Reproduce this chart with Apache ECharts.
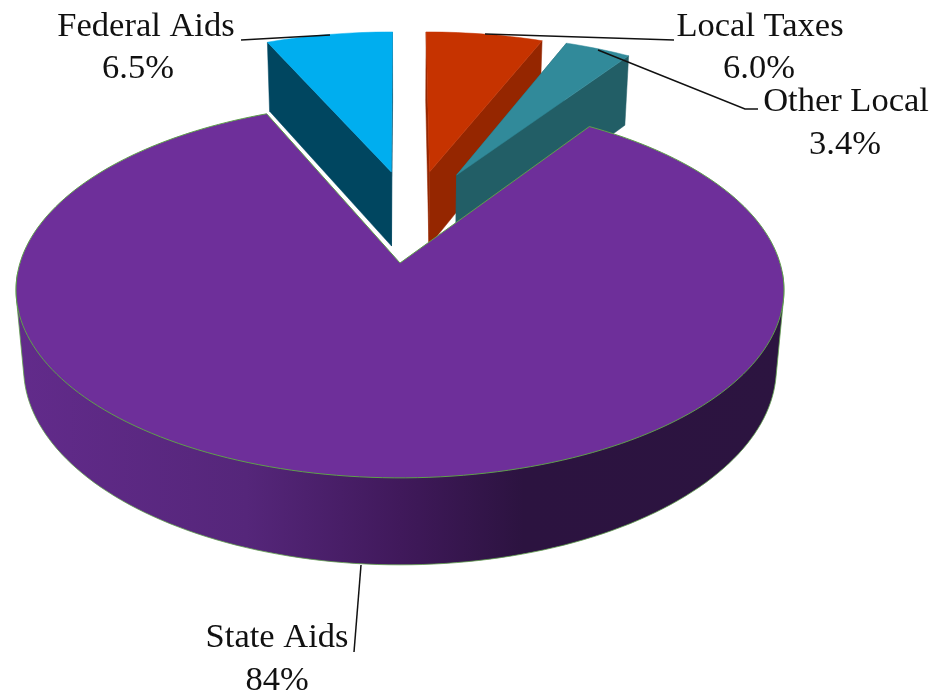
<!DOCTYPE html>
<html><head><meta charset="utf-8">
<style>html,body{margin:0;padding:0;background:#fff}#c{width:935px;height:693px}</style>
<script src="https://cdn.jsdelivr.net/npm/echarts@6/dist/echarts.min.js"></script>
</head><body><div id="c"></div>
<script>
// Data
const categories = ['Federal Aids', 'Local Taxes', 'Other Local', 'State Aids'];
const values = [6.5, 6.0, 3.4, 84];
const percentLabels = ['6.5%', '6.0%', '3.4%', '84%'];

// Projection of the pie disc (perspective view from above)
const FIRST_ANGLE = -23.4, CX = 400, CY = 263, A = 380, B = 184, K = 0.1436;
const VANISH = [400, 4260];
const FONT = '34.5px "Liberation Serif"';
// Per-slice styling and layout
const topColors = ['#00aeef', '#c63300', '#318a9a', '#6e2f9a'];
const wallColors = ['#004660', '#952600', '#225e66', null];
const explode = [[-0.0245, -0.532], [0.0835, -0.532], [0.16, -0.513], [0, 0]];
const nameXY = [[146, 27], [760, 27], [846, 102], [277, 638]];
const pctXY = [[138, 69], [759, 69], [845, 145], [277, 681]];
const leaders = [
  [[241, 40], [330, 35]],
  [[485, 34], [674, 40]],
  [[598, 50], [745, 109], [758, 109]],
  [[361, 565], [354, 652]]
];

function depth(v) { return 77.84 + 7.91 * v + 1.25 * v * v; }
function proj(u, v, low) {
  const w = 1 - K * v;
  const x = CX + A * u / w, y = CY + B * v / w;
  if (!low) return [x, y];
  const dx = VANISH[0] - x, dy = VANISH[1] - y, l = Math.hypot(dx, dy), d = depth(v);
  return [x + dx / l * d, y + dy / l * d];
}
function rim(deg, off, low) {
  const t = deg * Math.PI / 180;
  return proj(off[0] + Math.sin(t), off[1] - Math.cos(t), low);
}
function arc(a0, a1, off, low) {
  const n = Math.max(2, Math.ceil(Math.abs(a1 - a0) / 1.5)), r = [];
  for (let i = 0; i <= n; i++) r.push(rim(a0 + (a1 - a0) * i / n, off, low));
  return r;
}
function hull(pts) {
  const p = pts.slice().sort((a, b) => a[0] - b[0] || a[1] - b[1]);
  const cr = (o, a, b) => (a[0] - o[0]) * (b[1] - o[1]) - (a[1] - o[1]) * (b[0] - o[0]);
  const lo = [], up = [];
  p.forEach(q => { while (lo.length > 1 && cr(lo[lo.length - 2], lo[lo.length - 1], q) <= 0) lo.pop(); lo.push(q); });
  p.slice().reverse().forEach(q => { while (up.length > 1 && cr(up[up.length - 2], up[up.length - 1], q) <= 0) up.pop(); up.push(q); });
  return lo.slice(0, -1).concat(up.slice(0, -1));
}
const total = values.reduce((s, v) => s + v, 0);
const starts = [];
values.reduce((acc, v, i) => { starts[i] = acc; return acc + v / total * 360; }, FIRST_ANGLE);

function renderItem(params, api) {
  const i = params.dataIndex;
  const sweep = api.value(0) / total * 360, a0 = starts[i], a1 = a0 + sweep, off = explode[i];
  const kids = [];
  const centre = proj(off[0], off[1], false), centreLow = proj(off[0], off[1], true);
  const GREEN = '#5f9f4c';
  if (wallColors[i]) {
    [a0, a1].forEach(a => {
      kids.push({ type: 'polygon',
        shape: { points: [centre, rim(a, off, false), rim(a, off, true), centreLow] },
        style: { fill: wallColors[i], stroke: wallColors[i], lineWidth: 0.5 } });
    });
    kids.push({ type: 'polygon',
      shape: { points: [centre].concat(arc(a0, a1, off, false)) },
      style: { fill: topColors[i], stroke: topColors[i], lineWidth: 0.5 } });
  } else {
    const side = hull(arc(93, 267, off, false).concat(arc(93, 267, off, true)));
    kids.push({ type: 'polygon', shape: { points: side },
      style: { stroke: GREEN, lineWidth: 0.8,
        fill: new echarts.graphic.LinearGradient(0, 0, 1, 0, [
          { offset: 0, color: '#622b8b' }, { offset: 0.3, color: '#55267a' },
          { offset: 0.5, color: '#40195b' }, { offset: 0.66, color: '#2c1340' },
          { offset: 1, color: '#2c1440' }]) } });
    kids.push({ type: 'polygon',
      shape: { points: [centre].concat(arc(a0, a1, off, false)) },
      style: { fill: topColors[i], stroke: GREEN, lineWidth: 1 } });
  }
  kids.push({ type: 'polyline', shape: { points: leaders[i] },
    style: { fill: null, stroke: '#111', lineWidth: 1.5 } });
  kids.push({ type: 'text', x: nameXY[i][0], y: nameXY[i][1],
    style: { text: categories[i], font: FONT, fill: '#111', align: 'center', verticalAlign: 'middle' } });
  kids.push({ type: 'text', x: pctXY[i][0], y: pctXY[i][1],
    style: { text: percentLabels[i], font: FONT, fill: '#111', align: 'center', verticalAlign: 'middle' } });
  return { type: 'group', children: kids };
}

const chart = echarts.init(document.getElementById('c'), null, { renderer: 'canvas' });
chart.setOption({
  backgroundColor: '#fff',
  animation: false,
  series: [{
    type: 'custom',
    coordinateSystem: 'none',
    renderItem,
    data: values.map((v, i) => ({ name: categories[i], value: [v] }))
  }]
});
</script></body></html>
